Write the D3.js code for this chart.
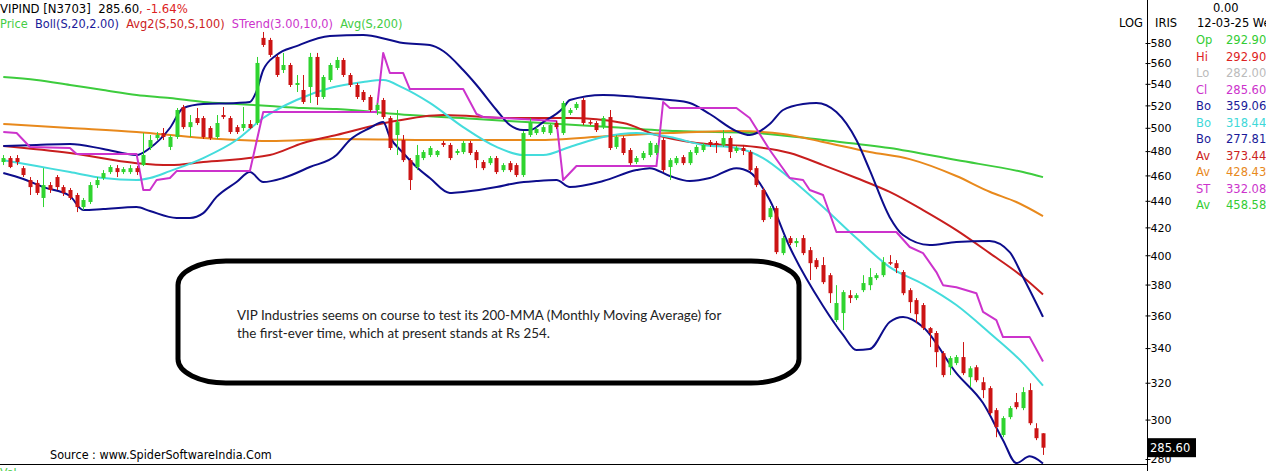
<!DOCTYPE html>
<html><head><meta charset="utf-8">
<script src="https://cdn.jsdelivr.net/npm/d3@7/dist/d3.min.js"></script>
<style>body{margin:0;background:#fff;overflow:hidden}svg{display:block}</style>
</head><body>
<svg id="c" width="1266" height="471"></svg>
<script>
// ---------- DATA ----------
const openV = [470.9,474.2,474.2,465.9,456.3,454.0,442.2,452.3,458.7,450.7,
448.4,444.5,435.2,439.1,452.3,457.9,462.7,465.9,462.7,462.7,
465.9,468.4,483.5,491.1,495.4,483.5,492.0,518.5,500.6,508.6,
508.6,499.8,492.0,511.3,508.6,500.6,499.8,503.3,504.2,585.2,
583.1,566.0,553.2,558.1,538.9,534.2,537.0,566.0,527.7,543.6,
555.2,563.0,548.4,538.9,532.3,527.7,515.8,524.9,508.6,493.7,
489.4,472.5,466.8,474.2,476.7,476.7,486.9,485.2,478.4,479.2,
486.9,479.2,470.9,470.0,474.2,464.3,470.0,468.4,460.3,493.7,
495.4,496.3,495.4,504.2,495.4,513.1,517.6,524.9,505.0,504.2,
500.6,509.5,483.5,491.1,480.9,470.9,474.2,476.7,478.4,489.4,
466.8,470.0,475.0,470.0,478.4,480.9,487.7,486.9,485.2,491.1,
480.1,482.6,479.2,465.9,448.4,427.6,434.4,401.5,412.2,408.6,
412.2,403.6,396.6,393.2,386.3,357.1,361.5,373.0,371.1,376.3,
379.6,384.3,386.3,395.2,394.5,388.4,376.3,369.8,366.6,352.1,
349.1,337.0,328.8,331.2,334.7,323.1,328.8,320.3,317.0,305.0,
292.0,301.3,309.3,306.1,315.9,295.5,292.9];
const highV = [476.7,475.9,476.7,467.6,458.7,456.3,465.9,454.7,460.3,452.3,
450.0,446.1,442.2,454.7,458.7,464.3,468.4,468.4,466.8,468.4,
467.6,495.4,493.7,496.3,499.8,493.7,517.6,520.4,511.3,517.6,
510.4,501.5,511.3,518.5,510.4,502.4,518.5,506.8,566.0,591.3,
585.2,568.0,570.0,560.1,548.4,548.4,570.0,570.0,548.4,560.1,
566.0,565.0,550.3,540.8,534.2,529.6,522.2,526.8,510.4,515.8,
493.7,474.2,485.2,480.9,484.3,480.9,488.6,486.9,481.8,488.6,
488.6,480.9,472.5,475.9,475.9,470.0,471.7,470.0,497.1,508.6,
500.6,502.4,504.2,505.9,524.0,517.6,523.1,526.8,506.8,505.9,
510.4,515.8,493.7,492.8,482.6,475.9,480.1,488.6,486.9,491.1,
474.2,475.9,476.7,480.9,485.2,486.9,489.4,488.6,498.0,492.8,
484.3,485.2,480.9,467.6,450.0,436.0,436.0,413.7,413.7,412.2,
414.4,405.8,398.0,398.7,387.7,379.6,376.3,376.3,374.3,386.3,
391.1,387.7,398.7,400.1,396.6,389.7,377.6,371.1,367.9,352.8,
350.3,338.2,335.3,335.9,343.6,329.4,330.0,323.1,318.1,306.1,
301.8,307.2,314.3,317.5,319.7,298.1,292.9];
const lowV = [468.4,465.9,468.4,458.7,444.5,444.5,435.2,446.1,448.4,443.7,
440.6,431.4,432.9,437.5,450.0,456.3,461.1,458.7,461.1,461.1,
460.3,467.6,480.9,489.4,489.4,480.9,490.3,498.9,492.0,502.4,
490.3,489.4,490.3,507.7,494.6,494.6,497.1,498.9,502.4,576.0,
566.0,546.5,550.3,537.0,532.3,521.3,522.2,520.4,525.8,541.7,
553.2,546.5,537.0,525.8,523.1,514.0,511.3,507.7,480.9,476.7,
470.9,448.4,464.3,472.5,475.0,475.0,483.5,472.5,476.7,477.5,
476.7,465.9,464.3,468.4,461.1,462.7,462.7,458.7,458.7,492.0,
493.7,494.6,493.7,498.9,493.7,511.3,515.8,502.4,502.4,496.3,
498.9,480.9,481.8,476.7,468.4,469.2,472.5,475.0,476.7,462.7,
456.3,468.4,468.4,468.4,476.7,479.2,483.5,478.4,483.5,474.2,
478.4,476.7,462.7,450.7,423.9,426.2,400.8,400.1,407.2,405.8,
400.1,383.0,390.4,380.3,367.9,355.9,350.9,367.9,369.8,375.0,
376.3,383.0,385.0,393.2,387.7,373.0,361.5,355.2,350.9,340.6,
328.8,323.1,324.3,330.0,324.3,317.5,320.3,311.5,302.3,290.9,
290.9,300.2,305.5,305.0,297.1,289.4,282.0];
const closeV = [474.2,466.8,470.9,460.3,450.7,446.1,452.3,448.4,450.7,446.1,
442.2,435.2,440.6,452.3,456.3,461.9,466.8,462.7,465.1,465.9,
462.7,476.7,489.4,493.7,492.0,492.0,515.8,500.6,505.0,504.2,
492.0,491.1,504.2,509.5,496.3,496.3,503.3,499.8,560.1,578.0,
568.0,548.4,558.1,538.9,540.8,523.1,566.0,527.7,546.5,558.1,
563.0,548.4,538.9,527.7,524.9,515.8,520.4,509.5,482.6,505.0,
472.5,456.3,476.7,479.2,482.6,480.1,485.2,474.2,480.1,486.9,
478.4,472.5,465.9,474.2,462.7,468.4,464.3,460.3,495.4,505.0,
498.9,500.6,502.4,500.6,522.2,515.8,521.3,504.2,504.2,498.0,
508.6,482.6,492.0,478.4,470.0,474.2,478.4,486.9,485.2,464.3,
472.5,474.2,470.0,479.2,483.5,485.2,485.2,485.2,491.1,479.2,
482.6,480.1,464.3,452.3,425.4,434.4,402.2,412.2,408.6,410.1,
401.5,394.5,391.8,381.6,374.3,367.9,375.0,371.1,373.0,381.0,
385.0,386.3,395.2,394.5,391.1,374.3,368.5,360.8,352.1,349.1,
337.6,324.3,334.1,334.7,325.4,328.2,321.4,315.9,303.4,296.1,
300.8,306.1,306.6,314.8,298.1,290.4,285.6];

const bollUpIdx = [0,5,10,15,20,22,25,27,30,35,37,38,39,41,44,49,54,58,60,64,66,69,71,74,76,78,79,81,84,85,90,95,100,103,106,110,112,115,117,120,122,125,128,130,133,135,139,143,148,151,153,156];
const bollUpVal = [484.3,485.2,486.0,481.8,476.7,482.6,499.8,517.6,521.3,522.2,523.1,533.2,553.2,568.0,576.9,587.2,588.2,583.1,580.0,578.0,571.9,553.2,538.9,515.8,502.4,498.0,498.0,505.0,517.6,524.9,529.6,527.7,524.9,522.2,512.2,497.1,493.7,503.3,515.8,521.3,522.2,514.0,489.4,464.3,427.6,414.4,407.2,409.4,410.1,402.2,385.0,359.1];
const bollMidIdx = [0,5,10,15,20,22,25,30,35,39,44,49,54,57,60,64,69,74,78,81,85,90,95,100,105,110,114,118,123,128,133,138,143,148,153,156];
const bollMidVal = [472.5,467.6,462.7,457.9,456.3,457.9,463.5,474.2,489.4,508.6,524.9,536.1,541.7,543.6,536.1,522.2,500.6,483.5,476.7,476.7,483.5,492.0,495.4,492.0,485.2,482.6,474.2,457.9,435.2,412.2,391.8,380.3,366.6,349.1,331.2,318.4];
const bollLowIdx = [0,3,6,10,12,15,20,22,26,28,30,32,35,37,39,42,46,50,52,55,57,58,60,62,64,67,69,74,77,80,83,85,90,95,97,100,103,106,110,112,115,118,123,126,128,130,133,135,138,143,147,150,152,154,156];
const bollLowVal = [461.9,457.1,450.7,443.7,432.9,433.7,435.2,432.2,427.0,427.0,430.6,443.0,454.7,462.7,454.7,457.9,466.8,476.7,489.4,499.8,505.0,492.0,478.4,466.8,457.9,446.1,446.9,450.7,454.0,455.5,456.3,450.7,455.5,464.3,465.9,459.5,455.5,457.9,465.9,462.7,440.6,405.8,366.0,347.9,338.8,339.4,355.9,359.0,352.8,325.4,308.8,289.4,278.0,281.3,277.8];
const avg50Idx = [0,10,20,25,30,40,45,50,58,66,76,85,93,98,104,113,118,123,128,133,138,143,148,153,156];
const avg50Val = [484.3,478.4,470.0,468.4,470.9,476.7,486.9,493.7,505.0,511.3,508.6,508.6,504.2,493.7,486.9,483.5,478.4,468.4,457.9,446.9,432.9,418.0,401.5,385.0,373.4];
const avg100Idx = [0,10,20,30,40,50,65,80,91,100,110,117,123,130,136,143,148,152,156];
const avg100Val = [503.3,499.8,496.3,491.1,488.6,490.3,489.4,489.4,492.8,495.4,497.1,494.6,487.7,479.2,473.3,459.5,447.0,439.1,428.4];
const avg200Idx = [0,5,10,15,20,25,30,35,40,45,50,61,71,81,91,101,113,123,133,143,153,156];
const avg200Val = [546.5,543.6,538.9,534.2,529.6,526.8,523.1,521.3,519.4,517.6,516.7,511.3,507.7,504.2,500.6,497.1,495.4,489.4,482.6,472.5,462.7,458.6];
const stIdx = [0,2,4,10,11,20,21,22,23,25,26,37,39,56,57,58,60,61,69,71,72,75,83,84,86,98,99,100,110,112,115,118,120,121,123,125,134,136,138,140,141,143,146,147,149,150,154,156];
const stVal = [496.3,495.4,483.5,482.6,477.5,477.5,448.4,448.4,456.3,457.9,463.5,463.5,514.0,514.0,570.0,550.3,550.3,535.1,535.1,512.2,509.5,508.6,505.9,456.3,467.6,467.6,523.1,517.6,517.6,508.6,480.9,457.9,456.3,448.4,444.5,416.6,416.6,405.8,401.5,388.4,379.6,378.2,374.3,362.2,357.1,346.6,346.6,332.1];

const yTicks = [280,300,320,340,360,380,400,420,440,460,480,500,520,540,560,580];
const lastPrice = "285.60";
const panelLabels = ["Op","Hi","Lo","Cl","Bo","Bo","Bo","Av","Av","ST","Av"];
const panelValues = ["292.90","292.90","282.00","285.60","359.06","318.44","277.81","373.44","428.43","332.08","458.58"];
const panelColors = ["#33cc33","#dd2222","#bbbbbb","#cc33cc","#1a1a99","#40d8d8","#1a1a99","#cc2222","#e8891c","#cc33cc","#33cc33"];

// ---------- DRAW ----------
const svg = d3.select("#c");
const FONT = "'DejaVu Sans', Verdana, sans-serif";
const HFONT = "'DejaVu Sans Condensed', 'Liberation Sans', Arial, sans-serif";
const x = d3.scaleLinear().domain([0,156]).range([3.3,1043]);
const y = d3.scaleLog().domain([280,580]).range([459,43]);

function fit(sel, w){
  const fs = parseFloat(sel.attr("font-size"));
  const bw = sel.node().getBBox().width;
  if (bw > 0) sel.attr("font-size", fs * w / bw);
}

const defs = svg.append("defs");
defs.append("clipPath").attr("id","plot")
  .append("rect").attr("x",0).attr("y",0).attr("width",1147).attr("height",464);
defs.append("clipPath").attr("id","axc")
  .append("rect").attr("x",-10).attr("y",0).attr("width",80).attr("height",464);

const plot = svg.append("g").attr("clip-path","url(#plot)");

function drawLine(idx, val, color, w, curve){
  const pts = idx.map((d,i)=>[x(d), y(val[i])]);
  plot.append("path").attr("d", d3.line().curve(curve)(pts))
    .attr("fill","none").attr("stroke",color).attr("stroke-width",w)
    .attr("stroke-linejoin","round");
}
drawLine(avg200Idx, avg200Val, "#3dcc3d", 2, d3.curveMonotoneX);
drawLine(avg100Idx, avg100Val, "#e8891c", 2, d3.curveMonotoneX);
drawLine(avg50Idx, avg50Val, "#c81e1e", 2, d3.curveMonotoneX);
drawLine(bollMidIdx, bollMidVal, "#44dcdc", 2, d3.curveMonotoneX);
drawLine(bollUpIdx, bollUpVal, "#0d0d8c", 2, d3.curveMonotoneX);
drawLine(bollLowIdx, bollLowVal, "#0d0d8c", 2, d3.curveMonotoneX);
drawLine(stIdx, stVal, "#cc33cc", 2, d3.curveLinear);

// candles
const cIdx = d3.range(openV.length);
const cg = plot.append("g");
cIdx.forEach(i=>{
  const up = closeV[i] >= openV[i];
  const col = up ? "#2fd42f" : "#cc1414";
  const cx = Math.round(x(i)) + 0.5;
  cg.append("line").attr("x1",cx).attr("x2",cx)
    .attr("y1",y(highV[i])).attr("y2",y(lowV[i]))
    .attr("stroke",col).attr("stroke-width",1);
  const top = y(Math.max(openV[i],closeV[i]));
  const bot = y(Math.min(openV[i],closeV[i]));
  cg.append("rect").attr("x",cx-2).attr("width",4)
    .attr("y",top).attr("height",Math.max(1.5,bot-top)).attr("fill",col);
});

// annotation box
svg.append("rect").attr("x",178).attr("y",261).attr("width",621).attr("height",122)
  .attr("rx",48).attr("ry",24).attr("fill","#fff").attr("stroke","#000").attr("stroke-width",5);
const ann = svg.append("g").attr("font-family","Lato, 'Open Sans', sans-serif").attr("fill","#222");
const a1 = ann.append("text").attr("x",237).attr("y",320).attr("font-size",12.5).text("VIP Industries seems on course to test its 200-MMA (Monthly Moving Average) for");
fit(a1, 485);
ann.append("text").attr("x",237).attr("y",338).attr("font-size",a1.attr("font-size")).text("the first-ever time, which at present stands at Rs 254.");

// frame lines
svg.append("line").attr("x1",0).attr("x2",1147).attr("y1",464.5).attr("y2",464.5).attr("stroke","#000");
svg.append("line").attr("x1",1147.5).attr("x2",1147.5).attr("y1",0).attr("y2",471).attr("stroke","#000");

// y axis
const ax = svg.append("g").attr("transform","translate(1147.5,0)").attr("clip-path","url(#axc)")
  .call(d3.axisRight(y).tickValues(yTicks).tickFormat(d3.format("d")).tickSize(3).tickPadding(0));
ax.select(".domain").remove();
ax.selectAll(".tick line").attr("x1",-2).attr("x2",3).attr("stroke","#000");
ax.selectAll("text").attr("font-family",FONT).attr("font-size",11).attr("fill","#000").attr("dy","0.35em").attr("x",3);

// last price tag
svg.append("rect").attr("x",1148).attr("y",y(285.6)-9.5).attr("width",48).attr("height",19).attr("fill","#000");
svg.append("text").attr("x",1150).attr("y",y(285.6)+4).attr("font-family",FONT).attr("font-size",11.5)
  .attr("fill","#fff").text(lastPrice);

// headers
const h1 = svg.append("text").attr("x",0).attr("y",12.5).attr("font-family",HFONT).attr("font-size",12).attr("xml:space","preserve");
h1.append("tspan").attr("fill","#000").text("VIPIND [N3703]  285.60");
h1.append("tspan").attr("fill","#dd2222").text(", -1.64%");
fit(h1, 188);
const h2 = svg.append("text").attr("x",0).attr("y",27.5).attr("font-family",HFONT).attr("font-size",12).attr("xml:space","preserve");
[["Price  ","#44cc44"],["Boll(S,20,2.00)  ","#1a1a99"],["Avg2(S,50,S,100)  ","#cc2222"],["STrend(3.00,10,0)  ","#cc33cc"],["Avg(S,200)","#44cc44"]]
  .forEach(d=>h2.append("tspan").attr("fill",d[1]).text(d[0]));
fit(h2, 403);

svg.append("text").attr("x",1143).attr("y",27).attr("text-anchor","end").attr("font-family",FONT).attr("font-size",11.5).text("LOG");
svg.append("text").attr("x",1155).attr("y",27).attr("font-family",FONT).attr("font-size",11.5).text("IRIS");
svg.append("text").attr("x",1213).attr("y",12).attr("font-family",FONT).attr("font-size",11.5).text("0.00");
svg.append("text").attr("x",1197).attr("y",27).attr("font-family",FONT).attr("font-size",11.5).text("12-03-25 Wed");

panelLabels.forEach((l,k)=>{
  const yy = 44 + k*16.5;
  svg.append("text").attr("x",1196).attr("y",yy).attr("font-family",FONT).attr("font-size",11.5).attr("fill",panelColors[k]).text(l);
  svg.append("text").attr("x",1226).attr("y",yy).attr("font-family",FONT).attr("font-size",11.5).attr("fill",panelColors[k]).text(panelValues[k]);
});

// source
const src = svg.append("text").attr("x",50).attr("y",459).attr("font-family",HFONT).attr("font-size",12).attr("fill","#000")
  .text("Source : www.SpiderSoftwareIndia.Com");
fit(src, 222);
svg.append("text").attr("x",0).attr("y",476).attr("font-family",FONT).attr("font-size",11).attr("fill","#44cc44").text("Vol");
</script>
</body></html>
